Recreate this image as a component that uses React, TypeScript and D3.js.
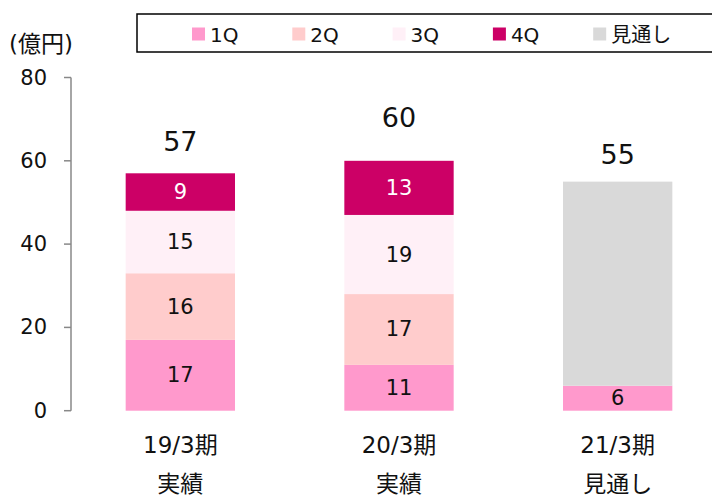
import React from "react";
import * as d3 from "d3";

const categories = ["19/3期\n実績", "20/3期\n実績", "21/3期\n見通し"];
const seriesNames = ["1Q", "2Q", "3Q", "4Q", "見通し"];
const q1 = [17, 11, 6];
const q2 = [16, 17, 0];
const q3 = [15, 19, 0];
const q4 = [9, 13, 0];
const forecast = [0, 0, 49];
const totals = [57, 60, 55];
const yTicks = [0, 20, 40, 60, 80];
const colors = ["#FF99CC", "#FFCCCC", "#FFF0F7", "#CC0066", "#D9D9D9"];
const labelColors = ["#111", "#111", "#111", "#fff", "#111"];
const totalOffsets = [22, 34, 18];

const W = 712, H = 497;
const FONT = "Verdana, 'DejaVu Sans', 'Noto Sans CJK JP', sans-serif";

export default function App() {
  const series = [q1, q2, q3, q4, forecast];
  const x = d3.scaleBand<string>().domain(categories).range([71, 727]).paddingInner(0.5).paddingOuter(0.25);
  const y = d3.scaleLinear().domain([0, 80]).range([410.7, 77.5]);
  const table = categories.map((c, i) => {
    const row: any = { cat: c };
    seriesNames.forEach((s, k) => (row[s] = series[k][i]));
    return row;
  });
  const stacked = d3.stack<any>().keys(seriesNames)(table);
  const bw = x.bandwidth();

  return (
    <svg width={W} height={H} style={{ position: "absolute", left: 0, top: 0, fontFamily: FONT }}>
      <rect x={0} y={0} width={W} height={H} fill="#fff" />
      {/* legend */}
      <rect x={137} y={14} width={600} height={38} fill="#fff" stroke="#000" strokeWidth={1.5} />
      {seriesNames.map((s, k) => (
        <g key={s} transform={`translate(${192 + k * 100.3},27.5)`}>
          <rect x={0} y={0} width={13} height={13} fill={colors[k]} />
          <text x={18} y={7} dominantBaseline="central" fontSize={20} fill="#111">{s}</text>
        </g>
      ))}
      {/* axis */}
      <text x={9} y={44} dominantBaseline="central" fontSize={23} fill="#111">(億円)</text>
      <line x1={71} x2={71} y1={y(80)} y2={y(0)} stroke="#888" strokeWidth={1.5} />
      {yTicks.map((t) => (
        <g key={t}>
          <line x1={64} x2={71} y1={y(t)} y2={y(t)} stroke="#888" strokeWidth={1.5} />
          <text x={47} y={y(t)} textAnchor="end" dominantBaseline="central" fontSize={21} fill="#111">{t}</text>
        </g>
      ))}
      {/* bars */}
      {stacked.map((layer, k) => (
        <g key={layer.key}>
          {layer.map((d, i) => {
            const v = d[1] - d[0];
            if (v <= 0) return null;
            const x0 = x(categories[i])!;
            return (
              <g key={i}>
                <rect x={x0} y={y(d[1])} width={bw} height={y(d[0]) - y(d[1])} fill={colors[k]} />
                {k < 4 && (
                  <text x={x0 + bw / 2} y={(y(d[0]) + y(d[1])) / 2} textAnchor="middle" dominantBaseline="central" fontSize={21} fill={labelColors[k]}>{v}</text>
                )}
              </g>
            );
          })}
        </g>
      ))}
      {/* totals */}
      {totals.map((t, i) => (
        <text key={i} x={x(categories[i])! + bw / 2} y={y(t) - totalOffsets[i]} textAnchor="middle" fontSize={27} fill="#111">{t}</text>
      ))}
      {/* category labels */}
      {categories.map((c, i) => {
        const lines = c.split("\n");
        return (
          <g key={c}>
            {lines.map((l, j) => (
              <text key={j} x={x(c)! + bw / 2} y={445 + j * 39} textAnchor="middle" dominantBaseline="central" fontSize={23} fill="#111">{l}</text>
            ))}
          </g>
        );
      })}
    </svg>
  );
}
